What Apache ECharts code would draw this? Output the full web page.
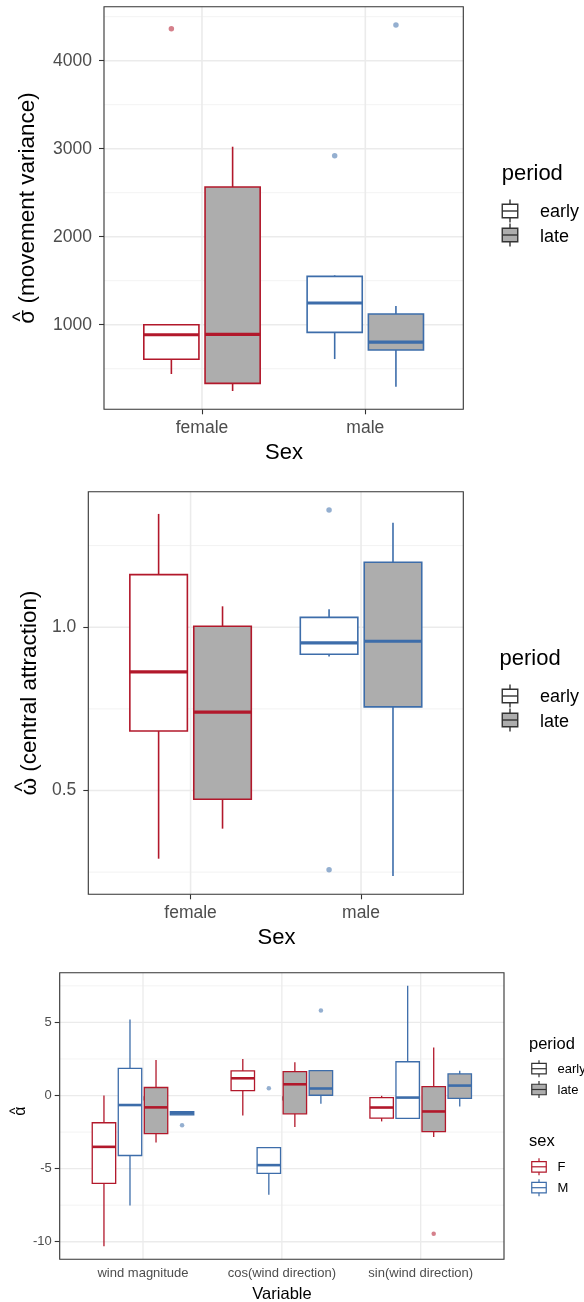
<!DOCTYPE html>
<html>
<head>
<meta charset="utf-8">
<script src="https://cdn.jsdelivr.net/npm/echarts@6/dist/echarts.min.js"></script>
<style>
  html, body { margin: 0; padding: 0; background: #ffffff; }
  #chart { width: 584px; height: 1302px; }
</style>
</head>
<body>
<div id="chart"></div>
<script>
// ---- data -----------------------------------------------------------------
// Five-number summaries per box: [lower whisker, Q1, median, Q3, upper whisker]

// movement variance (sigma hat) by sex
const sexes = ['female', 'male'];
const sigmaEarly = [[440, 607, 886, 1000, 1000], [610, 913, 1247, 1550, 1561]];
const sigmaLate = [[247, 334, 890, 2565, 3023], [295, 713, 803, 1122, 1213]];
const sigmaEarlyOutliers = [[4364], [2921]];
const sigmaLateOutliers = [[], [4406]];
const sigmaTicks = [1000, 2000, 3000, 4000];
const sigmaMinorTicks = [500, 1500, 2500, 3500, 4500];

// central attraction (omega hat) by sex
const omegaEarly = [[0.291, 0.682, 0.863, 1.161, 1.347], [0.910, 0.917, 0.952, 1.030, 1.055]];
const omegaLate = [[0.383, 0.473, 0.740, 1.003, 1.064], [0.238, 0.756, 0.957, 1.199, 1.320]];
const omegaEarlyOutliers = [[], [1.359, 0.257]];
const omegaLateOutliers = [[], []];
const omegaTicks = [0.5, 1.0];
const omegaMinorTicks = [0.25, 0.75, 1.25];

// wind coefficients (alpha hat) by variable, sex and period
const variables = ['wind magnitude', 'cos(wind direction)', 'sin(wind direction)'];
const alphaFEarly = [[-10.31, -6.01, -3.51, -1.86, 0.0], [-1.36, 0.34, 1.18, 1.68, 2.50], [-1.77, -1.54, -0.82, -0.14, -0.02]];
const alphaMEarly = [[-7.52, -4.10, -0.65, 1.86, 5.20], [-6.78, -5.33, -4.76, -3.56, -3.56], [-1.56, -1.56, -0.14, 2.31, 7.51]];
const alphaFLate = [[-3.22, -2.61, -0.81, 0.55, 2.43], [-2.15, -1.25, 0.77, 1.63, 2.27], [-2.83, -2.47, -1.09, 0.61, 3.29]];
const alphaMLate = [[-1.33, -1.32, -1.21, -1.10, -1.09], [-0.56, 0.02, 0.48, 1.70, 1.70], [-0.75, -0.20, 0.68, 1.48, 1.70]];
const alphaFEarlyOutliers = [[], [], []];
const alphaMEarlyOutliers = [[], [0.50], []];
const alphaFLateOutliers = [[], [], [-9.46]];
const alphaMLateOutliers = [[-2.04], [5.81], []];
const alphaTicks = [-10, -5, 0, 5];
const alphaMinorTicks = [-7.5, -2.5, 2.5, 7.5];

// ---- styling ----------------------------------------------------------------
const FONT = '"Liberation Sans", Arial, Helvetica, sans-serif';
const RED = '#B2182B';
const BLUE = '#3D6DAA';
const GRAY_FILL = '#ADADAD';
const GRID_MAJOR = '#EBEBEB';
const GRID_MINOR = '#F0F0F0';
const INK = '#333333';

const layouts = [
  { left: 104, top: 6.7, width: 359.3, height: 402.6 },
  { left: 88.3, top: 491.7, width: 375, height: 402.6 },
  { left: 59.7, top: 972.7, width: 444.3, height: 286.6 }
];

// y range: data span widened by 5% on each side
function paddedRange(boxes, outliers) {
  const vals = [];
  boxes.forEach(g => g.forEach(s => vals.push(...s)));
  outliers.forEach(g => g.forEach(o => vals.push(...o)));
  const lo = Math.min(...vals), hi = Math.max(...vals);
  const pad = (hi - lo) * 0.05;
  return [lo - pad, hi + pad];
}

function xAxisFor(gi, labels, fontSize, margin) {
  const ticks = labels.map((_, i) => i + 1);
  return {
    type: 'value', gridIndex: gi, min: 0.4, max: labels.length + 0.6,
    axisLine: { show: false },
    axisTick: { show: true, length: 5, customValues: ticks, lineStyle: { color: INK, width: 1.1 } },
    axisLabel: {
      customValues: ticks, formatter: v => labels[Math.round(v) - 1] || '',
      fontSize, color: '#4D4D4D', fontFamily: FONT, margin
    },
    splitLine: { show: false }
  };
}

function yAxisFor(gi, range, ticks, fmt, fontSize, margin) {
  return {
    type: 'value', gridIndex: gi, min: range[0], max: range[1],
    axisLine: { show: false },
    axisTick: { show: true, length: 5, customValues: ticks, lineStyle: { color: INK, width: 1.1 } },
    axisLabel: { customValues: ticks, formatter: fmt, fontSize, color: '#4D4D4D', fontFamily: FONT, margin },
    splitLine: { show: false }
  };
}

// panel grid lines drawn through the axis scales
function hLines(gi, values, width, color) {
  return {
    type: 'custom', xAxisIndex: gi, yAxisIndex: gi, z: 1, silent: true,
    data: values.map(v => [1, v]),
    encode: { x: 0, y: 1 },
    renderItem(params, api) {
      const cs = params.coordSys;
      const y = api.coord([api.value(0), api.value(1)])[1];
      return { type: 'line', shape: { x1: cs.x, y1: y, x2: cs.x + cs.width, y2: y },
        style: { stroke: color, lineWidth: width } };
    }
  };
}

function vLines(gi, count, width, color, yMid) {
  return {
    type: 'custom', xAxisIndex: gi, yAxisIndex: gi, z: 1, silent: true,
    data: Array.from({ length: count }, (_, i) => [i + 1, yMid]),
    encode: { x: 0, y: 1 },
    renderItem(params, api) {
      const cs = params.coordSys;
      const x = api.coord([api.value(0), api.value(1)])[0];
      return { type: 'line', shape: { x1: x, y1: cs.y, x2: x, y2: cs.y + cs.height },
        style: { stroke: color, lineWidth: width } };
    }
  };
}

// boxes for one group; colourOf(i) gives the outline colour of category i
function boxSeries(gi, name, stats, offset, halfW, colourOf, fill, lw, medLw) {
  return {
    type: 'custom', name, xAxisIndex: gi, yAxisIndex: gi, z: 3,
    data: stats.map((s, i) => [i + 1, ...s]),
    encode: { x: 0, y: [1, 2, 3, 4, 5] },
    renderItem(params, api) {
      const cat = api.value(0);
      const color = colourOf(cat - 1);
      const c = cat + offset;
      const pt = k => api.coord([c, api.value(k)]);
      const xm = pt(1)[0];
      const left = api.coord([c - halfW, api.value(3)])[0];
      const right = api.coord([c + halfW, api.value(3)])[0];
      const yMin = pt(1)[1], yQ1 = pt(2)[1], yMed = pt(3)[1], yQ3 = pt(4)[1], yMax = pt(5)[1];
      const seg = (x1, y1, x2, y2, w) => ({ type: 'line', shape: { x1, y1, x2, y2 },
        style: { stroke: color, lineWidth: w } });
      return {
        type: 'group',
        children: [
          seg(xm, yMax, xm, yQ3, lw),
          seg(xm, yQ1, xm, yMin, lw),
          { type: 'rect', shape: { x: left, y: yQ3, width: right - left, height: yQ1 - yQ3 },
            style: { fill, stroke: color, lineWidth: lw } },
          seg(left, yMed, right, yMed, medLw)
        ]
      };
    }
  };
}

function outlierSeries(gi, outliers, offset, color, size) {
  const pts = [];
  outliers.forEach((vals, i) => vals.forEach(v => pts.push([i + 1 + offset, v])));
  return {
    type: 'scatter', xAxisIndex: gi, yAxisIndex: gi, z: 4, silent: true,
    symbol: 'circle', symbolSize: size, data: pts,
    itemStyle: { color, opacity: 0.55 }
  };
}

// legend key: whisker, box and middle line
function keyGlyph(cx, cy, bw, bh, wh, stroke, fill, lw) {
  return {
    type: 'group', silent: true,
    children: [
      { type: 'line', shape: { x1: cx, y1: cy - wh, x2: cx, y2: cy + wh }, style: { stroke, lineWidth: lw } },
      { type: 'rect', shape: { x: cx - bw / 2, y: cy - bh / 2, width: bw, height: bh }, style: { fill, stroke, lineWidth: lw } },
      { type: 'line', shape: { x1: cx - bw / 2, y1: cy, x2: cx + bw / 2, y2: cy }, style: { stroke, lineWidth: lw } }
    ]
  };
}

function label(text, x, y, size, opts) {
  const o = opts || {};
  return {
    type: 'text', x, y, rotation: o.rotation || 0, silent: true,
    style: { text, fontSize: size, fontFamily: FONT, fill: o.fill || '#000000',
      align: o.align || 'center', verticalAlign: 'middle' }
  };
}

// vertical axis title: Greek symbol with a hat, then the description
const measureCtx = document.createElement('canvas').getContext('2d');
function hatTitle(symbol, rest, cx, cy, size, hatSize) {
  measureCtx.font = size + 'px ' + FONT;
  const full = rest ? symbol + ' ' + rest : symbol;
  const wFull = measureCtx.measureText(full).width;
  const wSym = measureCtx.measureText(symbol).width;
  return {
    type: 'group', x: cx, y: cy, rotation: Math.PI / 2, silent: true,
    children: [
      { type: 'text', x: -wFull / 2, y: 0,
        style: { text: full, fontSize: size, fontFamily: FONT, fill: '#000000', align: 'left', verticalAlign: 'middle' } },
      { type: 'text', x: -wFull / 2 + wSym / 2, y: -size * 0.28,
        style: { text: '^', fontSize: hatSize, fontFamily: FONT, fill: '#000000', align: 'center', verticalAlign: 'middle' } }
    ]
  };
}

// ---- ranges -----------------------------------------------------------------
const sigmaRange = paddedRange([sigmaEarly, sigmaLate], [sigmaEarlyOutliers, sigmaLateOutliers]);
const omegaRange = paddedRange([omegaEarly, omegaLate], [omegaEarlyOutliers, omegaLateOutliers]);
const alphaRange = paddedRange([alphaFEarly, alphaMEarly, alphaFLate, alphaMLate],
  [alphaFEarlyOutliers, alphaMEarlyOutliers, alphaFLateOutliers, alphaMLateOutliers]);

// ---- dodge geometry -----------------------------------------------------------
const dodge2 = [-0.1875, 0.1875];
const half2 = 0.16875;
const dodge4 = [-0.28125, -0.09375, 0.09375, 0.28125];
const half4 = 0.084375;
const bySex = i => (i === 0 ? RED : BLUE);
const only = c => () => c;

// outliers of panels 1 and 2, one series per sex so each takes its colour
function sexOutliers(gi, outliers, offset) {
  return outliers.map((vals, i) =>
    outlierSeries(gi, outliers.map((v, j) => (j === i ? v : [])), offset, bySex(i), 5.5));
}

const series = [
  // panel 1
  hLines(0, sigmaMinorTicks, 0.9, GRID_MINOR), hLines(0, sigmaTicks, 1.6, GRID_MAJOR),
  vLines(0, sexes.length, 1.6, GRID_MAJOR, sigmaTicks[0]),
  boxSeries(0, 'early', sigmaEarly, dodge2[0], half2, bySex, '#FFFFFF', 1.6, 3.2),
  boxSeries(0, 'late', sigmaLate, dodge2[1], half2, bySex, GRAY_FILL, 1.6, 3.2),
  ...sexOutliers(0, sigmaEarlyOutliers, dodge2[0]),
  ...sexOutliers(0, sigmaLateOutliers, dodge2[1]),
  // panel 2
  hLines(1, omegaMinorTicks, 0.9, GRID_MINOR), hLines(1, omegaTicks, 1.6, GRID_MAJOR),
  vLines(1, sexes.length, 1.6, GRID_MAJOR, omegaTicks[0]),
  boxSeries(1, 'early', omegaEarly, dodge2[0], half2, bySex, '#FFFFFF', 1.6, 3.2),
  boxSeries(1, 'late', omegaLate, dodge2[1], half2, bySex, GRAY_FILL, 1.6, 3.2),
  ...sexOutliers(1, omegaEarlyOutliers, dodge2[0]),
  ...sexOutliers(1, omegaLateOutliers, dodge2[1]),
  // panel 3
  hLines(2, alphaMinorTicks, 0.8, GRID_MINOR), hLines(2, alphaTicks, 1.3, GRID_MAJOR),
  vLines(2, variables.length, 1.3, GRID_MAJOR, alphaTicks[0]),
  boxSeries(2, 'F early', alphaFEarly, dodge4[0], half4, only(RED), '#FFFFFF', 1.3, 2.6),
  boxSeries(2, 'M early', alphaMEarly, dodge4[1], half4, only(BLUE), '#FFFFFF', 1.3, 2.6),
  boxSeries(2, 'F late', alphaFLate, dodge4[2], half4, only(RED), GRAY_FILL, 1.3, 2.6),
  boxSeries(2, 'M late', alphaMLate, dodge4[3], half4, only(BLUE), GRAY_FILL, 1.3, 2.6),
  outlierSeries(2, alphaFEarlyOutliers, dodge4[0], RED, 4.5),
  outlierSeries(2, alphaMEarlyOutliers, dodge4[1], BLUE, 4.5),
  outlierSeries(2, alphaFLateOutliers, dodge4[2], RED, 4.5),
  outlierSeries(2, alphaMLateOutliers, dodge4[3], BLUE, 4.5)
];

// ---- legends and titles --------------------------------------------------------
const graphics = [
  // panel 1
  hatTitle('σ', '(movement variance)', 28, 208, 22.5, 20),
  label('Sex', 284, 453, 22),
  label('period', 501.7, 174, 22, { align: 'left' }),
  keyGlyph(510, 211, 15.5, 13.5, 11.5, INK, '#FFFFFF', 1.4),
  keyGlyph(510, 235, 15.5, 13.5, 11.5, INK, GRAY_FILL, 1.4),
  label('early', 540, 212, 18, { align: 'left' }),
  label('late', 540, 237, 18, { align: 'left' }),
  // panel 2
  hatTitle('ω', '(central attraction)', 30, 693, 22.5, 20),
  label('Sex', 276.5, 938, 22),
  label('period', 499.5, 659, 22, { align: 'left' }),
  keyGlyph(510, 696, 15.5, 13.5, 11.5, INK, '#FFFFFF', 1.4),
  keyGlyph(510, 720, 15.5, 13.5, 11.5, INK, GRAY_FILL, 1.4),
  label('early', 540, 697, 18, { align: 'left' }),
  label('late', 540, 722, 18, { align: 'left' }),
  // panel 3
  hatTitle('α', '', 21, 1111, 16, 14),
  label('Variable', 282, 1294, 16.5),
  label('period', 529, 1044, 16.5, { align: 'left' }),
  keyGlyph(539, 1068.7, 14.5, 10.5, 8.5, INK, '#FFFFFF', 1.2),
  keyGlyph(539, 1089.5, 14.5, 10.5, 8.5, INK, GRAY_FILL, 1.2),
  label('early', 557.5, 1069.5, 13, { align: 'left' }),
  label('late', 557.5, 1090, 13, { align: 'left' }),
  label('sex', 529, 1141, 16.5, { align: 'left' }),
  keyGlyph(539, 1166.8, 14.5, 10.5, 8.5, RED, '#FFFFFF', 1.2),
  keyGlyph(539, 1187.7, 14.5, 10.5, 8.5, BLUE, '#FFFFFF', 1.2),
  label('F', 557.5, 1167.5, 13, { align: 'left' }),
  label('M', 557.5, 1188.5, 13, { align: 'left' })
];

const chart = echarts.init(document.getElementById('chart'), null, { renderer: 'canvas' });
chart.setOption({
  backgroundColor: '#FFFFFF',
  animation: false,
  grid: layouts.map(l => Object.assign({ show: true, borderColor: INK, borderWidth: 1.1,
    backgroundColor: 'transparent', z: 10, containLabel: false }, l)),
  xAxis: [
    xAxisFor(0, sexes, 17.5, 10),
    xAxisFor(1, sexes, 17.5, 10),
    xAxisFor(2, variables, 13, 8)
  ],
  yAxis: [
    yAxisFor(0, sigmaRange, sigmaTicks, v => String(Math.round(v)), 17.5, 12),
    yAxisFor(1, omegaRange, omegaTicks, v => v.toFixed(1), 17.5, 12),
    yAxisFor(2, alphaRange, alphaTicks, v => String(Math.round(v)), 13, 8)
  ],
  series,
  graphic: graphics
});
</script>
</body>
</html>
